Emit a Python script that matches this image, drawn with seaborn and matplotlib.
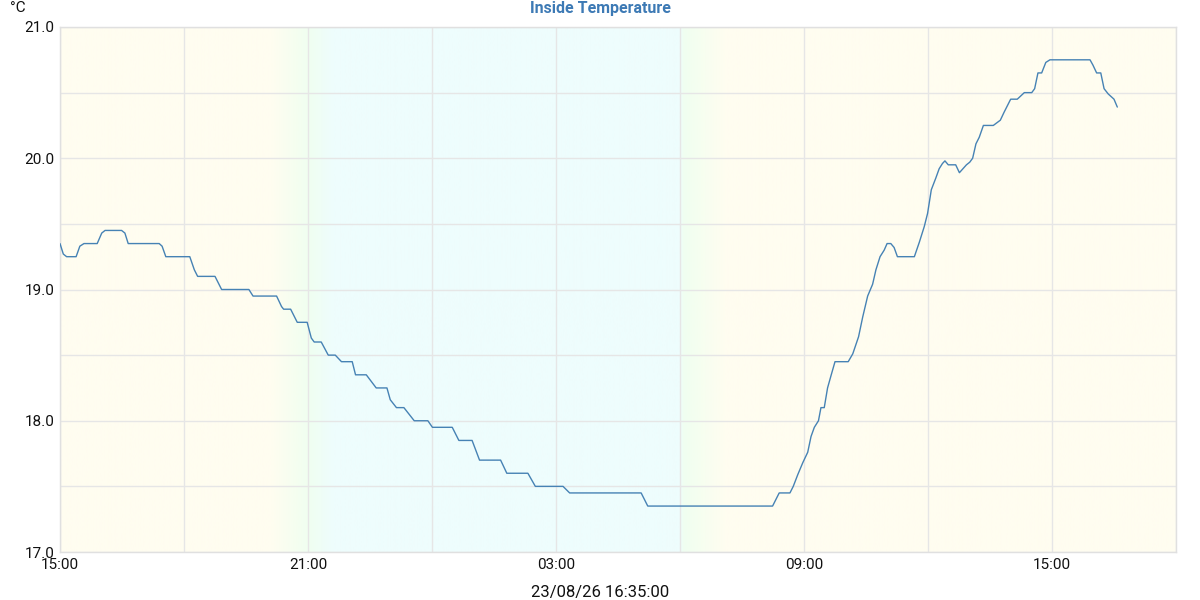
import pandas as pd
import matplotlib
matplotlib.use('Agg')
import matplotlib.pyplot as plt
import matplotlib.dates as mdates
import seaborn as sns
import numpy as np

sns.set_theme(style="whitegrid")
plt.rcParams['font.family'] = ['Roboto', 'DejaVu Sans']

start = pd.Timestamp('2023-08-25 15:00')
end = pd.Timestamp('2023-08-26 18:00')
stamp = '23/08/26 16:35:00'

# hours after 15:00 and inside temperature (C)
hours = [0.00, 0.08, 0.16, 0.39, 0.48, 0.58, 0.90, 1.01, 1.09, 1.49,
         1.57, 1.65, 2.40, 2.47, 2.56, 3.14, 3.25, 3.33, 3.75, 3.91,
         4.57, 4.67, 5.24, 5.36, 5.41, 5.58, 5.74, 5.98, 6.08, 6.15,
         6.32, 6.49, 6.66, 6.81, 7.07, 7.15, 7.41, 7.65, 7.91, 7.99,
         8.14, 8.32, 8.57, 8.90, 9.01, 9.49, 9.65, 9.97, 10.15, 10.66,
         10.81, 11.32, 11.50, 12.17, 12.33, 14.06, 14.22, 17.24, 17.40, 17.66,
         17.74, 17.85, 17.97, 18.09, 18.17, 18.25, 18.35, 18.41, 18.49, 18.57,
         18.65, 18.75, 19.07, 19.18, 19.32, 19.42, 19.54, 19.66, 19.74, 19.84,
         19.94, 20.01, 20.10, 20.18, 20.26, 20.67, 20.79, 20.91, 20.99, 21.08,
         21.19, 21.27, 21.35, 21.41, 21.49, 21.67, 21.76, 21.93, 22.01, 22.08,
         22.16, 22.24, 22.34, 22.58, 22.75, 22.84, 22.92, 23.00, 23.16, 23.33,
         23.51, 23.58, 23.66, 23.75, 23.85, 23.95, 24.92, 24.99, 25.08, 25.18,
         25.26, 25.36, 25.50, 25.58]
temps = [19.35, 19.27, 19.25, 19.25, 19.33, 19.35, 19.35, 19.43, 19.45, 19.45,
         19.43, 19.35, 19.35, 19.33, 19.25, 19.25, 19.15, 19.10, 19.10, 19.00,
         19.00, 18.95, 18.95, 18.87, 18.85, 18.85, 18.75, 18.75, 18.63, 18.60,
         18.60, 18.50, 18.50, 18.45, 18.45, 18.35, 18.35, 18.25, 18.25, 18.16,
         18.10, 18.10, 18.00, 18.00, 17.95, 17.95, 17.85, 17.85, 17.70, 17.70,
         17.60, 17.60, 17.50, 17.50, 17.45, 17.45, 17.35, 17.35, 17.45, 17.45,
         17.50, 17.59, 17.68, 17.76, 17.88, 17.95, 18.00, 18.10, 18.10, 18.25,
         18.34, 18.45, 18.45, 18.51, 18.64, 18.79, 18.95, 19.04, 19.15, 19.25,
         19.30, 19.35, 19.35, 19.32, 19.25, 19.25, 19.36, 19.48, 19.58, 19.76,
         19.85, 19.92, 19.96, 19.98, 19.95, 19.95, 19.89, 19.95, 19.97, 20.00,
         20.11, 20.16, 20.25, 20.25, 20.29, 20.35, 20.40, 20.45, 20.45, 20.50,
         20.50, 20.53, 20.65, 20.65, 20.73, 20.75, 20.75, 20.71, 20.65, 20.65,
         20.53, 20.49, 20.45, 20.39]

df = pd.DataFrame({'time': start + pd.to_timedelta(hours, unit='h'), 'temp': temps})

fig = plt.figure(figsize=(12, 6), dpi=100)
ax = fig.add_axes([0.05, 0.08, 0.93, 0.875])

# day / twilight / night background
day = np.array([255, 253, 240]) / 255
twi = np.array([240, 255, 240]) / 255
night = np.array([238, 253, 253]) / 255
stops = [0, 5.1, 6.0, 6.6, 15.0, 15.1, 16.1, 27]
cols = [day, day, twi, night, night, twi, day, day]
hh = np.linspace(0, 27, 1200)
grad = np.stack([np.interp(hh, stops, [c[i] for c in cols]) for i in range(3)], axis=-1)
x0, x1 = mdates.date2num(start), mdates.date2num(end)
ax.imshow(grad[np.newaxis, :, :], extent=[x0, x1, 17, 21], aspect='auto', zorder=0)

sns.lineplot(data=df, x='time', y='temp', ax=ax, color='#4682b4', linewidth=1.0, zorder=3)

ax.set_xlim(x0, x1)
ax.set_ylim(17, 21)
ax.xaxis.set_major_locator(mdates.HourLocator(byhour=[3, 9, 15, 21]))
ax.xaxis.set_minor_locator(mdates.HourLocator(byhour=[0, 6, 12, 18]))
ax.xaxis.set_major_formatter(mdates.DateFormatter('%H:%M'))
ax.set_yticks([17, 18, 19, 20, 21])
ax.set_yticks([17.5, 18.5, 19.5, 20.5], minor=True)
ax.yaxis.set_major_formatter(matplotlib.ticker.FormatStrFormatter('%.1f'))
ax.grid(True, which='both', color='#e6e6e6', linewidth=1.0, zorder=1)
ax.set_axisbelow(True)
ax.tick_params(axis='both', which='both', length=0, labelsize=11, colors='#111111')
ax.tick_params(axis='x', pad=4)
ax.tick_params(axis='y', pad=4)
for s in ax.spines.values():
    s.set_color('#e0e0e0')
    s.set_linewidth(1.0)

ax.set_xlabel('')
ax.set_ylabel('')
fig.text(0.5, 0.013, stamp, fontsize=12, color='#111111', va='center', ha='center')
fig.text(0.008, 0.986, '°C', fontsize=11, color='#111111', va='center', ha='left')
fig.text(0.5, 0.985, 'Inside Temperature', fontsize=11.5, fontweight='bold',
         color='#3d7ab5', va='center', ha='center')

plt.savefig('out.png', dpi=100)
